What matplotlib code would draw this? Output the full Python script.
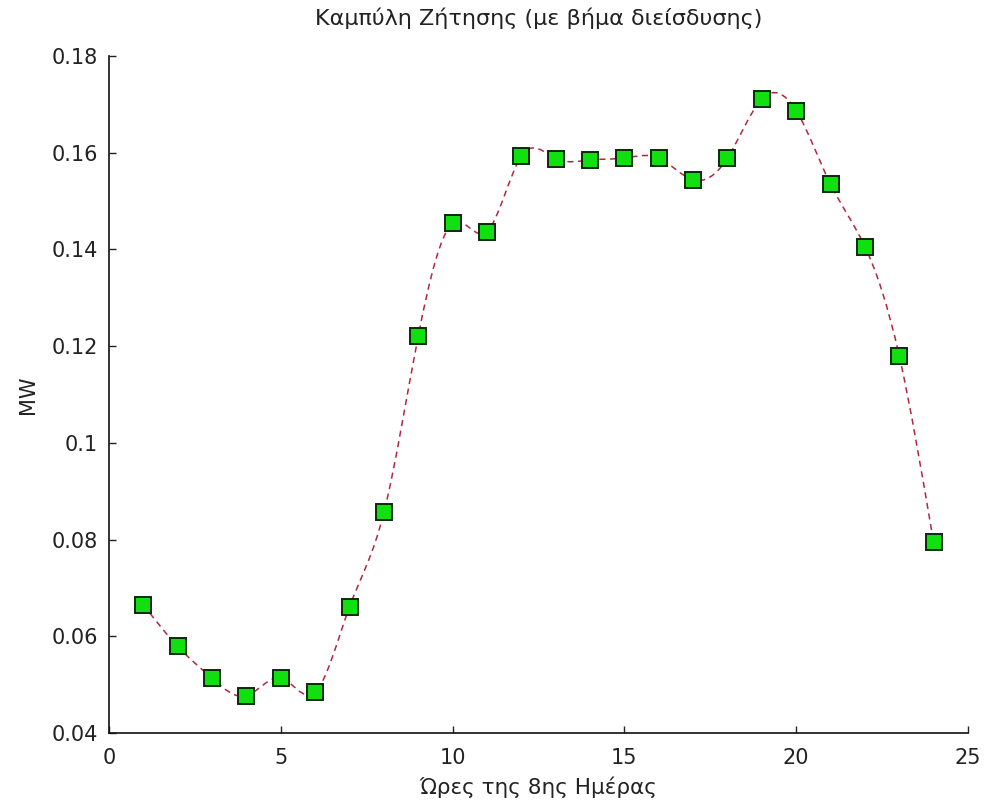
import numpy as np
import matplotlib
matplotlib.use("Agg")
import matplotlib.pyplot as plt
from matplotlib.path import Path
from matplotlib.patches import PathPatch

hours = [1, 2, 3, 4, 5, 6, 7, 8, 9, 10, 11, 12,
         13, 14, 15, 16, 17, 18, 19, 20, 21, 22, 23, 24]
demand = [0.0665, 0.0579, 0.0513, 0.0477, 0.0514, 0.0484, 0.0661, 0.0856,
          0.1221, 0.1454, 0.1437, 0.1593, 0.1588, 0.1585, 0.1589, 0.1589,
          0.1544, 0.1589, 0.1711, 0.1687, 0.1535, 0.1406, 0.1180, 0.0794]
xticks = [0, 5, 10, 15, 20, 25]
yticks = [0.04, 0.06, 0.08, 0.1, 0.12, 0.14, 0.16, 0.18]
ytick_labels = ["0.04", "0.06", "0.08", "0.1", "0.12", "0.14", "0.16", "0.18"]

title = "Καμπύλη Ζήτησης (με βήμα διείσδυσης)"
xlabel = "Ώρες της 8ης Ημέρας"
ylabel = "MW"

plt.rcParams['font.family'] = ['DejaVu Sans']

fig = plt.figure(figsize=(9.85, 8.07), dpi=100)
ax = fig.add_axes([0.1107, 0.0917, 0.8720, 0.8389])

# natural cubic spline through the data, drawn exactly as cubic Bezier segments
x = np.asarray(hours, float)
y = np.asarray(demand, float)
n = len(x)
h = np.diff(x)
A = np.zeros((n, n))
r = np.zeros(n)
A[0, 0] = 1.0
A[-1, -1] = 1.0
for i in range(1, n - 1):
    A[i, i - 1] = h[i - 1]
    A[i, i] = 2 * (h[i - 1] + h[i])
    A[i, i + 1] = h[i]
    r[i] = 6 * ((y[i + 1] - y[i]) / h[i] - (y[i] - y[i - 1]) / h[i - 1])
M = np.linalg.solve(A, r)
verts = [(x[0], y[0])]
codes = [Path.MOVETO]
for i in range(n - 1):
    hi = h[i]
    d = (y[i + 1] - y[i]) / hi
    s0 = d - hi * (2 * M[i] + M[i + 1]) / 6
    s1 = d + hi * (M[i] + 2 * M[i + 1]) / 6
    c1 = (x[i] + hi / 3, y[i] + s0 * hi / 3)
    c2 = (x[i + 1] - hi / 3, y[i + 1] - s1 * hi / 3)
    verts += [c1, c2, (x[i + 1], y[i + 1])]
    codes += [Path.CURVE4] * 3
patch = PathPatch(Path(verts, codes), facecolor='none', edgecolor='#b0283c',
                  linewidth=1.1, linestyle=(0, (4, 3)), zorder=2)
ax.add_patch(patch)

ax.plot(hours, demand, linestyle='none', marker='s', markersize=11,
        markerfacecolor='#10e010', markeredgecolor='#0a2a0a',
        markeredgewidth=1.4, zorder=3)

ax.set_xlim(0, 25)
ax.set_ylim(0.04, 0.18)
ax.set_xticks(xticks)
ax.set_yticks(yticks)
ax.set_yticklabels(ytick_labels)
ax.tick_params(direction='in', length=5, width=1, labelsize=15,
               colors='#222222')
ax.tick_params(axis='x', pad=11)
ax.tick_params(axis='y', pad=8)
for s in ['top', 'right']:
    ax.spines[s].set_visible(False)
for s in ['left', 'bottom']:
    ax.spines[s].set_linewidth(1.2)
    ax.spines[s].set_color('#111111')

ax.set_title(title, fontsize=16, color='#222222', pad=22)
ax.set_xlabel(xlabel, fontsize=15.5, color='#222222', labelpad=6)
ax.set_ylabel(ylabel, fontsize=15, color='#222222', labelpad=10)

fig.savefig("out.png", dpi=100)
